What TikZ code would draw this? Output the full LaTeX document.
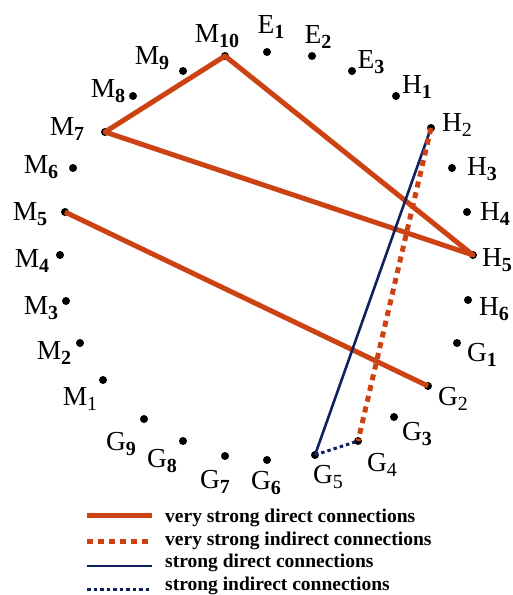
\documentclass[tikz,border=0pt]{standalone}
\usepackage{fontspec}
\setmainfont{Liberation Serif}
\definecolor{vsred}{RGB}{204,66,18}
\definecolor{snavy}{RGB}{14,34,96}
\newcommand{\lbl}[2]{#1\raisebox{-0.2em}{\fontsize{20}{20}\selectfont\bfseries #2}}
\newcommand{\lbr}[2]{#1\raisebox{-0.2em}{\fontsize{20}{20}\selectfont #2}}
\begin{document}
\begin{tikzpicture}[x=1pt,y=-1pt,
  dot/.style={circle,fill=black,inner sep=0pt,minimum size=8pt},
  lab/.style={anchor=base,inner sep=0pt,font=\fontsize{27.5}{30}\selectfont},
  legtext/.style={anchor=base west,inner sep=0pt,font=\fontsize{19.5}{22}\selectfont\bfseries},
  vsdirect/.style={draw=vsred,line width=5pt},
  vsindirect/.style={draw=vsred,line width=5pt,dash pattern=on 6pt off 5pt},
  sdirect/.style={draw=snavy,line width=2.6pt},
  sindirect/.style={draw=snavy,line width=3pt,dash pattern=on 3.5pt off 3pt}]
\useasboundingbox (0,0) rectangle (513,595);
% dots
\node[dot] (M10) at (225,56) {};
\node[dot] (E1) at (267,52) {};
\node[dot] (E2) at (312,56) {};
\node[dot] (E3) at (352,71) {};
\node[dot] (H1) at (396,96) {};
\node[dot] (H2) at (431,128) {};
\node[dot] (H3) at (452,168) {};
\node[dot] (H4) at (467,212) {};
\node[dot] (H5) at (473,255) {};
\node[dot] (H6) at (468,300) {};
\node[dot] (G1) at (457,343) {};
\node[dot] (G2) at (428,386) {};
\node[dot] (G3) at (394,417) {};
\node[dot] (G4) at (358,441) {};
\node[dot] (G5) at (315,455) {};
\node[dot] (G6) at (267,460) {};
\node[dot] (G7) at (225,456) {};
\node[dot] (G8) at (183,441) {};
\node[dot] (G9) at (144,419) {};
\node[dot] (M1) at (103,380) {};
\node[dot] (M2) at (80,343) {};
\node[dot] (M3) at (66,301) {};
\node[dot] (M4) at (60,255) {};
\node[dot] (M5) at (65,212) {};
\node[dot] (M6) at (73,168) {};
\node[dot] (M7) at (105,132) {};
\node[dot] (M8) at (133,96) {};
\node[dot] (M9) at (183,71) {};
% labels
\node[lab] (lM10) at (217,42) {\lbl{M}{10}};
\node[lab] (lE1) at (271,33) {\lbl{E}{1}};
\node[lab] (lE2) at (318,43) {\lbl{E}{2}};
\node[lab] (lE3) at (371,68) {\lbl{E}{3}};
\node[lab] (lH1) at (417,93) {\lbl{H}{1}};
\node[lab] (lH2) at (457,131) {\lbr{H}{2}};
\node[lab] (lH3) at (482,175) {\lbl{H}{3}};
\node[lab] (lH4) at (495,220) {\lbl{H}{4}};
\node[lab] (lH5) at (497,266) {\lbl{H}{5}};
\node[lab] (lH6) at (494,315) {\lbl{H}{6}};
\node[lab] (lG1) at (482,361) {\lbl{G}{1}};
\node[lab] (lG2) at (453,405) {\lbr{G}{2}};
\node[lab] (lG3) at (417,440) {\lbl{G}{3}};
\node[lab] (lG4) at (382,471) {\lbr{G}{4}};
\node[lab] (lG5) at (328,483) {\lbr{G}{5}};
\node[lab] (lG6) at (266,489) {\lbl{G}{6}};
\node[lab] (lG7) at (215,488) {\lbl{G}{7}};
\node[lab] (lG8) at (162,467) {\lbl{G}{8}};
\node[lab] (lG9) at (121,450) {\lbl{G}{9}};
\node[lab] (lM1) at (80,405) {\lbr{M}{1}};
\node[lab] (lM2) at (54,359) {\lbl{M}{2}};
\node[lab] (lM3) at (41,314) {\lbl{M}{3}};
\node[lab] (lM4) at (32,267) {\lbl{M}{4}};
\node[lab] (lM5) at (30,220) {\lbl{M}{5}};
\node[lab] (lM6) at (41,173) {\lbl{M}{6}};
\node[lab] (lM7) at (67,135) {\lbl{M}{7}};
\node[lab] (lM8) at (108,97) {\lbl{M}{8}};
\node[lab] (lM9) at (152,64) {\lbl{M}{9}};
% connections
\draw[vsdirect,line join=round] (M7.center) -- (M10.center) -- (H5.center) -- cycle;
\draw[vsdirect] (M5.center) -- (G2.center);
\draw[sdirect] (H2.center) -- (G5.center);
\draw[vsindirect] (H2.center) -- (G4.center);
\draw[sindirect] (G5.center) -- (G4.center);
% legend
\coordinate (a1) at (87,515); \coordinate (b1) at (152,515);
\coordinate (a2) at (87,541); \coordinate (b2) at (152,541);
\coordinate (a3) at (87,566); \coordinate (b3) at (152,566);
\coordinate (a4) at (87,589); \coordinate (b4) at (152,589);
\draw[vsdirect] (a1) -- (b1);
\draw[vsindirect] (a2) -- (b2);
\draw[sdirect] (a3) -- (b3);
\draw[sindirect] (a4) -- (b4);
\node[legtext] (t1) at (165,522) {very strong direct connections};
\node[legtext] (t2) at (165,545) {very strong indirect connections};
\node[legtext] (t3) at (165,567) {strong direct connections};
\node[legtext] (t4) at (165,590) {strong indirect connections};
\end{tikzpicture}
\end{document}
